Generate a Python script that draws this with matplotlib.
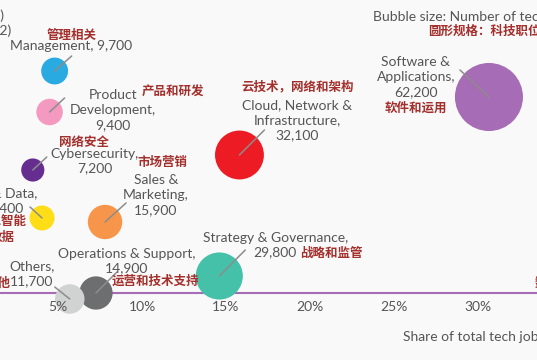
import matplotlib
matplotlib.use("Agg")
import matplotlib.pyplot as plt

plt.rcParams['font.family'] = ['Lato', 'Noto Sans CJK SC', 'DejaVu Sans']

# ---- data ----
roles_en = ["Management, 9,700", "Product\nDevelopment,\n9,400", "Cybersecurity,\n7,200",
            "AI & Data,\n8,400", "Sales &\nMarketing,\n15,900", "Cloud, Network &\nInfrastructure,\n32,100",
            "Software &\nApplications,\n62,200", "Strategy & Governance,\n29,800",
            "Operations & Support,\n14,900", "Others,\n11,700"]
roles_cn = ["管理相关", "产品和研发", "网络安全", "人工智能\n数据", "市场营销", "云技术，网络和架构",
            "软件和运用", "战略和监管", "运营和技术支持", "其他"]
jobs = [9700, 9400, 7200, 8400, 15900, 32100, 62200, 29800, 14900, 11700]
share = [4.8, 4.5, 3.5, 4.05, 7.8, 15.8, 30.65, 14.6, 7.26, 5.7]
growth = [22.2, 18.1, 12.3, 7.5, 7.1, 13.8, 19.6, 1.7, 0.0, -0.6]
colors = ["#29ABE2", "#F49AC1", "#662D91", "#FFDE17", "#F7964A", "#ED1C24",
          "#A66CB5", "#45C1A9", "#6D6E70", "#D1D3D2"]
xticks = [5, 10, 15, 20, 25, 30]

# label layout, offsets in screen pixels from bubble centre (x right, y down)
leader = [(17, -15), (15, -14), (14, -13), (-12, -11), (21, -19), (25, -25),
          (-29, -27), (26, -26), (21, -21), (-15, -12)]
en_off = [(16, -25), (63, -2), (62, -9), (-36, -17), (51, -27), (58, -35),
          (-73, -20), (56, -31), (31, -32), (-38, -25)]
cn_off = [(17, -36), (123, -21), (51, -28), (-40, 11), (57, -60), (58, -69),
          (-73, 11), (81, -23), (59, -12), (-59, -16)]
cn_ha = ['center'] * 7 + ['left', 'center', 'right']

BG = "#F9F9F9"
GREY = "#555555"
RED = "#A3302D"

fig = plt.figure(figsize=(5.37, 3.6), dpi=100, facecolor=BG)
ax = fig.add_axes([0, 67 / 360, 1, 293 / 360])
ax.set_facecolor(BG)
ax.set_xlim(1.548, 33.51)
ax.set_ylim(0, 29.3)

ax.scatter(share, growth, s=[j * 2400 / 62200 for j in jobs], c=colors,
           edgecolors='none', zorder=2, clip_on=False)


def pts(o):
    return (o[0] * 0.72, -o[1] * 0.72)


for i in range(len(jobs)):
    ax.annotate('', xy=(share[i], growth[i]), xytext=pts(leader[i]),
                textcoords='offset points', annotation_clip=False,
                arrowprops=dict(arrowstyle='-', color='#8C8C8C', lw=1.1,
                                shrinkA=0, shrinkB=0), zorder=3)
    ax.annotate(roles_en[i], xy=(share[i], growth[i]), xytext=pts(en_off[i]),
                textcoords='offset points', ha='center', va='center',
                fontsize=10, color=GREY, linespacing=1.3, annotation_clip=False)
    ax.annotate(roles_cn[i], xy=(share[i], growth[i]), xytext=pts(cn_off[i]),
                textcoords='offset points', ha=cn_ha[i], va='center',
                fontsize=9, color=RED, fontweight='bold', linespacing=1.3,
                annotation_clip=False)

for s in ['top', 'right', 'left']:
    ax.spines[s].set_visible(False)
ax.spines['bottom'].set_color('#A66CB5')
ax.spines['bottom'].set_linewidth(1.5)
ax.spines['bottom'].set_zorder(1)
ax.set_yticks([])
ax.set_xticks(xticks)
ax.set_xticklabels([f"{t}%" for t in xticks])
ax.tick_params(axis='x', length=0, pad=6, labelsize=10, labelcolor=GREY)
ax.xaxis.set_zorder(4)

ax.set_xlabel("Share of total tech jobs (%)", fontsize=10, color=GREY,
              ha='left', va='center')
ax.xaxis.set_label_coords(403 / 537, -44 / 293)

fig.text(12 / 537, 1 - 23 / 360, "Growth (%)\n(2017-2022)", ha='right', va='center',
         multialignment='left', fontsize=10, color=GREY, linespacing=1.2)
fig.text(575 / 537, 1 - 17 / 360, "Bubble size: Number of tech jobs", ha='right',
         va='center', fontsize=10, color=GREY)
fig.text(566 / 537, 1 - 31 / 360, "圆形规格：科技职位数量", ha='right', va='center',
         fontsize=9, color=RED, fontweight='bold')
fig.text(535 / 537, 1 - 283 / 360, "数", ha='left', va='center',
         fontsize=9, color=RED, fontweight='bold')

fig.savefig("out.png", dpi=100, facecolor=BG)
